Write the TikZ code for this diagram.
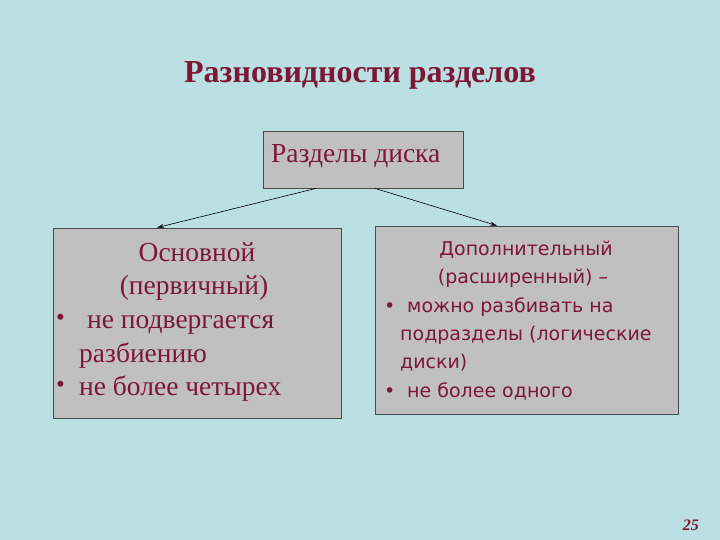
\documentclass[tikz,border=0pt]{standalone}
\usepackage{xcolor}
\usepackage{fontspec}
\setmainfont{Liberation Serif}
\newfontfamily\panelsans{DejaVu Sans}
\usepackage{tikz}
\usetikzlibrary{arrows.meta}

\definecolor{slidebg}{HTML}{BAE0E4}
\definecolor{wine}{HTML}{7D1733}
\definecolor{panelfill}{HTML}{C0C0C0}
\definecolor{paneledge}{HTML}{4A4A4A}

\tikzset{
  panel/.style={draw=paneledge, fill=panelfill, line width=0.8pt, inner sep=0pt},
  serifline/.style={text=wine, inner sep=0pt, font=\fontsize{27.5}{30}\selectfont},
  sansline/.style={text=wine, inner sep=0pt, font=\panelsans\fontsize{19}{22}\selectfont},
  dot/.style={text=wine, inner sep=0pt, font=\fontsize{25}{27}\selectfont},
  link/.style={-{Stealth[length=7pt,width=4pt]}, line width=0.6pt, black}
}

\begin{document}
\begin{tikzpicture}[x=1pt, y=-1pt]
  % Background
  \fill[slidebg] (0,0) rectangle (720,540);
  \useasboundingbox (0,0) rectangle (720,540);
  % Title
  \node[text=wine, inner sep=0pt, anchor=base, font=\bfseries\fontsize{32}{36}\selectfont]
    (title) at (360,83) {Разновидности разделов};
  % Boxes
  \node[panel, minimum width=200pt, minimum height=57pt] (disk) at (363,159.5) {};
  \node[panel, minimum width=288pt, minimum height=190pt] (primary) at (197,323) {};
  \node[panel, minimum width=303pt, minimum height=188pt] (extended) at (526.5,320) {};
  % Top box text
  \node[serifline, anchor=base west] (disktxt) at (271,163) {Разделы диска};
  % Left box text
  \node[serifline, anchor=base] (p1) at (197,261) {Основной};
  \node[serifline, anchor=base] (p2) at (194,294) {(первичный)};
  \node[dot, anchor=base west] (pb1) at (56,325) {•};
  \node[serifline, anchor=base west] (p3) at (87,328) {не подвергается};
  \node[serifline, anchor=base west] (p4) at (79,362) {разбиению};
  \node[dot, anchor=base west] (pb2) at (56,392) {•};
  \node[serifline, anchor=base west] (p5) at (79,395) {не более четырех};
  % Right box text
  \node[sansline, anchor=base] (e1) at (526,255) {Дополнительный};
  \node[sansline, anchor=base] (e2) at (523,283) {(расширенный) –};
  \node[sansline, anchor=base west] (eb1) at (384,312) {•};
  \node[sansline, anchor=base west] (e3) at (407,312) {можно разбивать на};
  \node[sansline, anchor=base west] (e4) at (400,340) {подразделы (логические};
  \node[sansline, anchor=base west] (e5) at (400,368) {диски)};
  \node[sansline, anchor=base west] (eb2) at (384,397) {•};
  \node[sansline, anchor=base west] (e6) at (407,397) {не более одного};
  % Connectors
  \draw[link] ([xshift=-47pt]disk.south) -- ([xshift=-40pt]primary.north);
  \draw[link] ([xshift=12pt]disk.south) -- ([xshift=-29.5pt]extended.north);
  % Page number
  \node[text=wine, inner sep=0pt, anchor=base east, font=\bfseries\itshape\fontsize{16}{18}\selectfont]
    (pagenum) at (699,530) {25};
\end{tikzpicture}
\end{document}
